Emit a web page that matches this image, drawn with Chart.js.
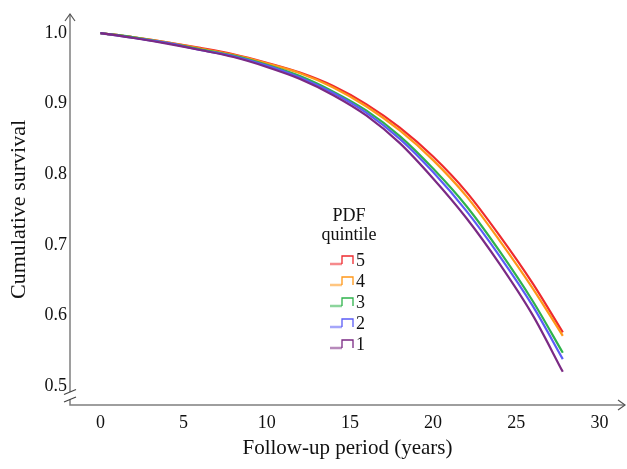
<!DOCTYPE html>
<html>
<head>
<meta charset="utf-8">
<title>Cumulative survival by PDF quintile</title>
<script src="https://cdn.jsdelivr.net/npm/chart.js@4.4.1/dist/chart.umd.min.js"></script>
<style>
    html, body { margin: 0; padding: 0; background: #ffffff; }
    #wrap { position: relative; width: 627px; height: 469px; }
</style>
</head>
<body>
<div id="wrap"><canvas id="survivalChart"></canvas></div>
<script>
// --- data ---
const years = [0, 2, 4, 6, 8, 10, 12, 14, 16, 18, 20, 22, 24, 26, 27.8];
const q1 = [1.000, 0.993, 0.985, 0.976, 0.966, 0.952, 0.935, 0.912, 0.883, 0.844, 0.794, 0.738, 0.673, 0.600, 0.520];
const q2 = [1.000, 0.993, 0.986, 0.976, 0.967, 0.954, 0.937, 0.915, 0.887, 0.850, 0.803, 0.748, 0.684, 0.613, 0.538];
const q3 = [1.000, 0.994, 0.986, 0.977, 0.968, 0.955, 0.939, 0.917, 0.890, 0.854, 0.808, 0.755, 0.691, 0.620, 0.547];
const q4 = [1.000, 0.994, 0.987, 0.978, 0.969, 0.957, 0.943, 0.923, 0.896, 0.862, 0.820, 0.769, 0.706, 0.638, 0.571];
const q5 = [1.000, 0.994, 0.987, 0.979, 0.970, 0.958, 0.944, 0.925, 0.899, 0.866, 0.825, 0.775, 0.713, 0.645, 0.576];

const quintileLabels = ['1', '2', '3', '4', '5'];
const quintileColors = ['#7b2a84', '#5b5cf6', '#2eb34b', '#ff9718', '#ee2a2e'];
const xTicks = [0, 5, 10, 15, 20, 25, 30];
const yTicks = [0.5, 0.6, 0.7, 0.8, 0.9, 1.0];

const serif = "'Liberation Serif', 'Times New Roman', serif";
const axisGrey = '#7f7f7f';

// draws the arrowed axes, the y-axis break and the step-icon legend
const axesPlugin = {
    id: 'axesPlugin',
    afterDraw(chart) {
        const ctx = chart.ctx;
        const a = chart.chartArea;
        const x0 = a.left, yb = a.bottom;

        ctx.save();
        ctx.strokeStyle = axisGrey;
        ctx.lineWidth = 1.5;
        ctx.beginPath();
        // y axis with a gap for the break
        ctx.moveTo(x0, a.top);
        ctx.lineTo(x0, yb - 13);
        ctx.moveTo(x0, yb - 5.5);
        ctx.lineTo(x0, yb);
        // x axis
        ctx.lineTo(a.right, yb);
        ctx.stroke();

        // arrowheads
        ctx.lineWidth = 1.2;
        ctx.strokeStyle = '#555';
        ctx.beginPath();
        ctx.moveTo(x0 - 5, a.top + 7);
        ctx.lineTo(x0, a.top);
        ctx.lineTo(x0 + 5, a.top + 7);
        ctx.moveTo(a.right - 7, yb - 5);
        ctx.lineTo(a.right, yb);
        ctx.lineTo(a.right - 7, yb + 5);
        ctx.stroke();

        // break slashes
        ctx.strokeStyle = '#444';
        ctx.lineWidth = 1.3;
        ctx.beginPath();
        [yb - 13, yb - 5.5].forEach(y => {
            ctx.moveTo(x0 - 6, y + 2.5);
            ctx.lineTo(x0 + 6, y - 2.5);
        });
        ctx.stroke();

        // legend
        ctx.fillStyle = '#111';
        ctx.font = '18px ' + serif;
        ctx.textAlign = 'center';
        ctx.textBaseline = 'middle';
        ctx.fillText('PDF', 349, 216);
        ctx.fillText('quintile', 349, 235);

        ctx.textAlign = 'left';
        const order = chart.data.datasets.slice().reverse();
        order.forEach((ds, i) => {
            const yb2 = 264 + i * 21;
            ctx.strokeStyle = ds.borderColor;
            ctx.globalAlpha = 0.55;
            ctx.lineWidth = 2.5;
            ctx.beginPath();
            ctx.moveTo(330, yb2);
            ctx.lineTo(342, yb2);
            ctx.stroke();
            ctx.globalAlpha = 1;
            ctx.lineWidth = 1.3;
            ctx.beginPath();
            ctx.moveTo(342, yb2);
            ctx.lineTo(342, yb2 - 8);
            ctx.lineTo(353, yb2 - 8);
            ctx.lineTo(353, yb2);
            ctx.stroke();
            ctx.fillStyle = '#111';
            ctx.fillText(ds.label, 356, yb2 - 3);
        });
        ctx.restore();
    }
};

const series = [q1, q2, q3, q4, q5];
const datasets = series.map((vals, i) => ({
    label: quintileLabels[i],
    data: years.map((t, j) => ({ x: t, y: vals[j] })),
    borderColor: quintileColors[i],
    backgroundColor: quintileColors[i],
    borderWidth: 2.2,
    pointRadius: 0,
    fill: false,
    cubicInterpolationMode: 'monotone'
}));

new Chart(document.getElementById('survivalChart'), {
    type: 'line',
    data: { datasets: datasets },
    options: {
        responsive: true,
        maintainAspectRatio: false,
        animation: false,
        layout: { padding: { left: 0, top: 14, right: 2, bottom: 0 } },
        plugins: {
            legend: { display: false },
            tooltip: { enabled: false }
        },
        scales: {
            x: {
                type: 'linear',
                min: -1.83,
                max: 31.54,
                grid: { display: false, drawTicks: false },
                border: { display: false },
                afterBuildTicks: s => { s.ticks = xTicks.map(v => ({ value: v })); },
                afterFit: s => { s.height = 64; },
                ticks: {
                    color: '#111',
                    font: { family: serif, size: 18 },
                    padding: 7,
                    maxRotation: 0,
                    callback: v => String(v)
                },
                title: {
                    display: true,
                    text: 'Follow-up period (years)',
                    color: '#111',
                    font: { family: serif, size: 21 },
                    padding: { top: 0, bottom: 8 }
                }
            },
            y: {
                min: 0.473,
                max: 1.027,
                grid: { display: false, drawTicks: false },
                border: { display: false },
                afterBuildTicks: s => { s.ticks = yTicks.map(v => ({ value: v })); },
                afterFit: s => { s.width = 70; },
                ticks: {
                    color: '#111',
                    font: { family: serif, size: 18 },
                    padding: 3,
                    callback: v => v.toFixed(1)
                },
                title: {
                    display: true,
                    text: 'Cumulative survival',
                    color: '#111',
                    font: { family: serif, size: 22 },
                    padding: { top: 6, bottom: 0 }
                }
            }
        }
    },
    plugins: [axesPlugin]
});
</script>
</body>
</html>
